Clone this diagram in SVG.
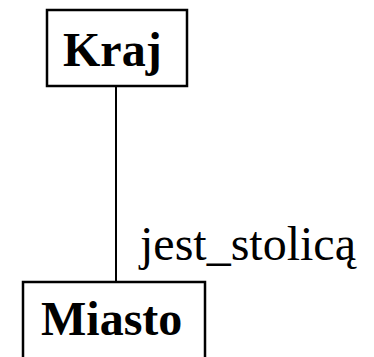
<svg xmlns="http://www.w3.org/2000/svg" width="374" height="357" viewBox="0 0 374 357">
<style>
.box{fill:#fff;stroke:#000;stroke-width:2.5}
.lbl{font-family:"Liberation Serif","Times New Roman",serif;font-size:48px;font-weight:bold;fill:#000}
.edge{stroke:#000;stroke-width:2;fill:none}
.elbl{font-family:"Liberation Serif","Times New Roman",serif;font-size:48px;fill:#000}
</style>
<rect width="374" height="357" fill="#fff"/>
<g id="connectors">
<line class="edge" x1="116" y1="86" x2="116" y2="282"/>
<text class="elbl" x="140" y="260">jest_stolicą</text>
</g>
<g id="kraj">
<rect class="box" x="47" y="10" width="140" height="76"/>
<text class="lbl" x="63" y="66">Kraj</text>
</g>
<g id="miasto">
<rect class="box" x="23" y="282" width="182" height="90"/>
<text class="lbl" x="41" y="335">Miasto</text>
</g>
</svg>
